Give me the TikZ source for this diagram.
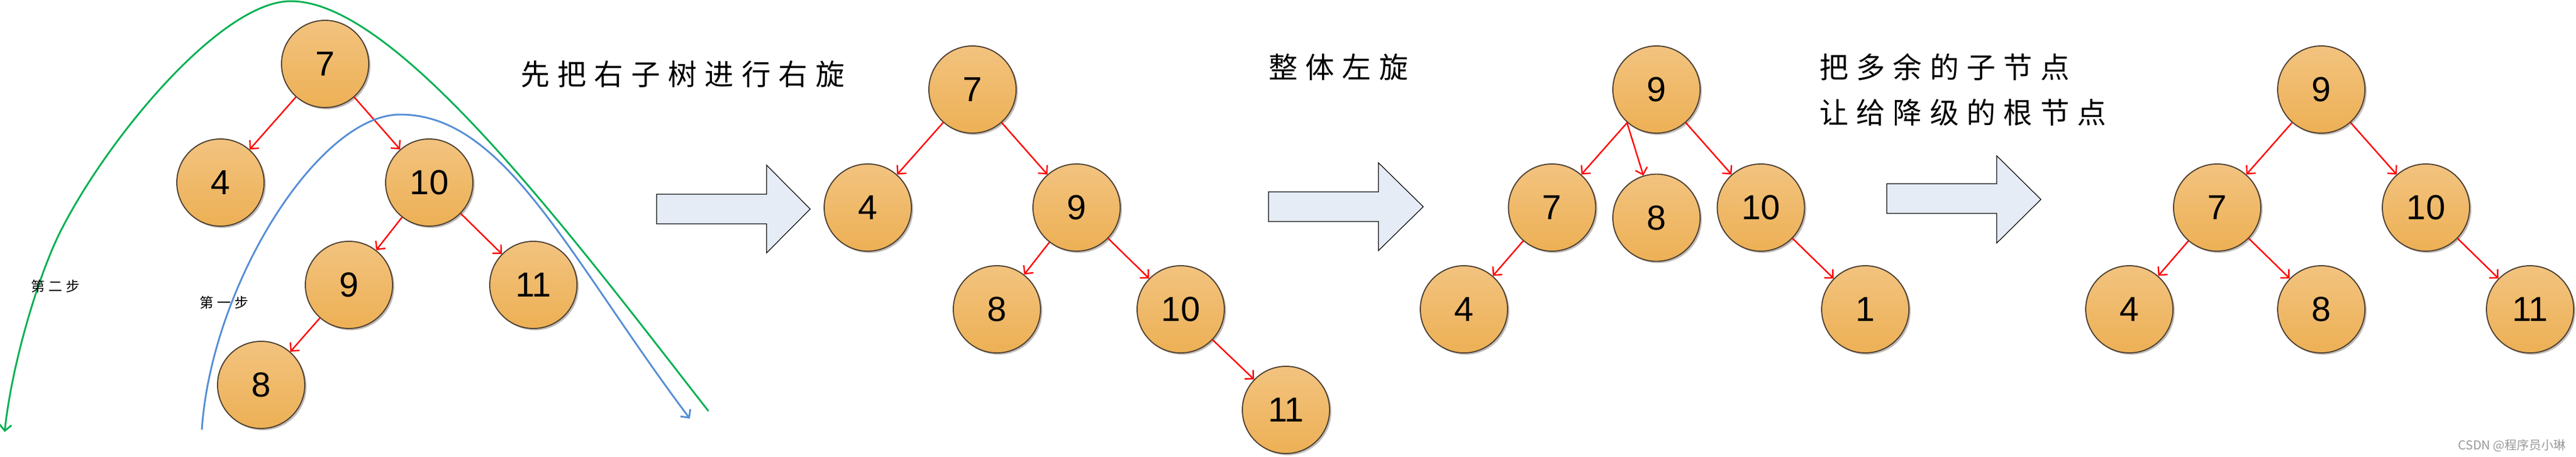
\documentclass[tikz,border=0pt]{standalone}
\usepackage{fontspec}
\setmainfont{Liberation Sans}
\newfontfamily\cjk{Noto Sans CJK SC}[LetterSpace=27]
\newfontfamily\cjkplain{Noto Sans CJK SC}
\usepackage{xcolor}
\usetikzlibrary{positioning}
\usetikzlibrary{arrows.meta, shadows}

\definecolor{nodetop}{HTML}{F2C37F}
\definecolor{nodebot}{HTML}{EDB055}
\definecolor{nodeline}{HTML}{4D4033}
\definecolor{arrowfill}{HTML}{E5ECF6}
\definecolor{stepgreen}{HTML}{00B050}
\definecolor{stepblue}{HTML}{558ED5}

\begin{document}
\begin{tikzpicture}[
            > = {Straight Barb[length=3pt,width=6pt]}, % arrow head style
            on grid, % children placed centre to centre
            semithick,
            tnode/.style = {circle, draw=nodeline, line width=0.55pt,
                top color=nodetop, bottom color=nodebot,
                minimum size=1.5cm, inner sep=0pt,
                font=\fontsize{17}{17}\selectfont,
                drop shadow={shadow xshift=0.03cm, shadow yshift=-0.03cm, fill=nodeline, opacity=0.35}},
            link/.style = {->, red, line width=0.7pt},
            bigarrow/.style = {draw=black, line width=0.35pt, fill=arrowfill},
            note/.style = {anchor=west, inner sep=0pt, font=\cjk\fontsize{14.2}{22.2}\selectfont},
            stepnote/.style = {anchor=west, inner sep=0pt, font=\cjk\fontsize{6.8}{6.8}\selectfont},
            turn/.style = {->, line width=0.85pt}
        ]

        \useasboundingbox (0,0) rectangle (44.29,-7.85);

        % tree before any rotation
        \node[tnode] (A7) at (5.59,-1.10) {7};
        \node[tnode] (A4) [below left=2.04cm and 1.80cm of A7] {4};
        \node[tnode] (A10) [below right=2.04cm and 1.79cm of A7] {10};
        \node[tnode] (A9) [below left=1.76cm and 1.38cm of A10] {9};
        \node[tnode] (A11) [below right=1.76cm and 1.79cm of A10] {11};
        \node[tnode] (A8) [below left=1.72cm and 1.51cm of A9] {8};

        % after right rotation of the right subtree
        \node[tnode] (B7) at (16.72,-1.54) {7};
        \node[tnode] (B4) [below left=2.03cm and 1.80cm of B7] {4};
        \node[tnode] (B9) [below right=2.03cm and 1.79cm of B7] {9};
        \node[tnode] (B8) [below left=1.75cm and 1.37cm of B9] {8};
        \node[tnode] (B10) [below right=1.75cm and 1.79cm of B9] {10};
        \node[tnode] (B11) [below right=1.73cm and 1.81cm of B10] {11};

        % after left rotation of the whole tree
        \node[tnode] (C9) at (28.48,-1.54) {9};
        \node[tnode] (C7) [below left=2.03cm and 1.795cm of C9] {7};
        \node[tnode] (C8) [below=2.205cm of C9] {8};
        \node[tnode] (C10) [below right=2.03cm and 1.795cm of C9] {10};
        \node[tnode] (C4) [below left=1.75cm and 1.515cm of C7] {4};
        \node[tnode] (C1) [below right=1.75cm and 1.795cm of C10] {1};

        % final tree
        \node[tnode] (D9) at (39.91,-1.54) {9};
        \node[tnode] (D7) [below left=2.03cm and 1.79cm of D9] {7};
        \node[tnode] (D10) [below right=2.03cm and 1.80cm of D9] {10};
        \node[tnode] (D4) [below left=1.75cm and 1.51cm of D7] {4};
        \node[tnode] (D8) [below right=1.75cm and 1.79cm of D7] {8};
        \node[tnode] (D11) [below right=1.75cm and 1.79cm of D10] {11};

        \path[link]
            (A7)  edge (A4)
            (A7)  edge (A10)
            (A10) edge (A9)
            (A10) edge (A11)
            (A9)  edge (A8)

            (B7)  edge (B4)
            (B7)  edge (B9)
            (B9)  edge (B8)
            (B9)  edge (B10)
            (B10) edge (B11)

            (C9)  edge (C7)
            (C9.-132) edge (C8)
            (C9)  edge (C10)
            (C7)  edge (C4)
            (C10) edge (C1)

            (D9)  edge (D7)
            (D9)  edge (D10)
            (D7)  edge (D4)
            (D7)  edge (D8)
            (D10) edge (D11);

        % the two turns drawn over the first tree
        \coordinate (G0) at (12.18,-7.07);
        \coordinate (GT) at (5.00,-0.02);
        \coordinate (GM) at (1.03,-4.00);
        \coordinate (G1) at (0.08,-7.43);
        \draw[turn, stepgreen] (G0) .. controls (9.72,-3.91) and (6.80,-0.02) .. (GT)
            .. controls (3.80,-0.02) and (1.835,-2.39) .. (GM)
            .. controls (0.672,-4.715) and (0.206,-6.23) .. (G1);

        \coordinate (B0) at (3.47,-7.39);
        \coordinate (BT) at (6.88,-1.97);
        \coordinate (B1) at (11.86,-7.20);
        \draw[turn, stepblue] (B0) .. controls (3.64,-4.89) and (5.48,-1.97) .. (BT)
            .. controls (8.68,-1.97) and (9.76,-4.40) .. (B1);

        \node[stepnote] (S2) at (0.52,-4.92) {第二步};
        \node[stepnote] (S1) at (3.42,-5.20) {第一步};

        % block arrows between the stages
        \draw[bigarrow] (11.29,-3.34) -- (13.18,-3.34) -- (13.18,-2.84) -- (13.93,-3.595) -- (13.18,-4.35) -- (13.18,-3.85) -- (11.29,-3.85) -- cycle;
        \draw[bigarrow] (21.81,-3.30) -- (23.70,-3.30) -- (23.70,-2.80) -- (24.47,-3.555) -- (23.70,-4.31) -- (23.70,-3.81) -- (21.81,-3.81) -- cycle;
        \draw[bigarrow] (32.44,-3.16) -- (34.33,-3.16) -- (34.33,-2.68) -- (35.09,-3.43) -- (34.33,-4.18) -- (34.33,-3.67) -- (32.44,-3.67) -- cycle;

        \node[note] (N1) at (8.94,-1.28) {先把右子树进行右旋};
        \node[note] (N2) at (21.80,-1.16) {整体左旋};
        \node[note, align=left] (N3) at (31.27,-1.54) {把多余的子节点\\让给降级的根节点};

        \node[anchor=east, inner sep=0pt, text=black!40, font=\cjkplain\fontsize{6}{6}\selectfont] (W) at (44.13,-7.66) {CSDN @程序员小琳};

\end{tikzpicture}
\end{document}
